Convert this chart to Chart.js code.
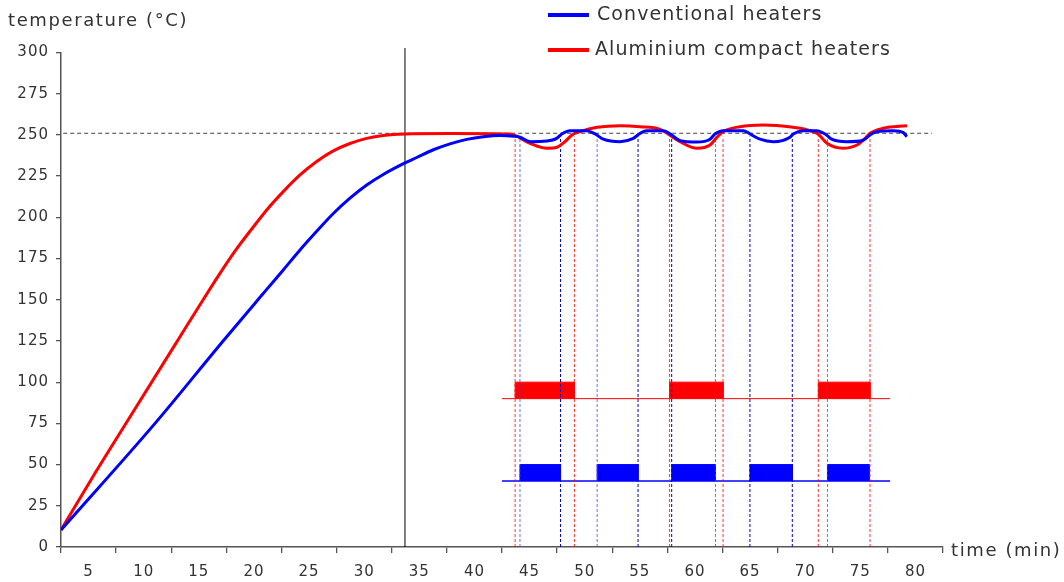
<!DOCTYPE html>
<html>
<head>
<meta charset="utf-8">
<script src="https://cdn.jsdelivr.net/npm/chart.js@4"></script>
<style>
  html, body { margin: 0; padding: 0; background: #fff; }
  canvas { display: block; }
</style>
</head>
<body>
<canvas id="c" width="1064" height="582"></canvas>
<script>
// ---- data ----
const xTicks = [5, 10, 15, 20, 25, 30, 35, 40, 45, 50, 55, 60, 65, 70, 75, 80];
const xLabels = ['5', '10', '15', '20', '25', '30', '35', '40', '45', '50', '55', '60', '65', '70', '75', '80'];
const yTicks = [0, 25, 50, 75, 100, 125, 150, 175, 200, 225, 250, 275, 300];

const seriesNames = ['Conventional heaters', 'Aluminium compact heaters'];

const blueTime = [2.5, 11.03, 17.28, 20.1, 21.16, 22.66, 24.18, 25.69, 27.2, 28.71, 30.23, 31.73, 33.7, 34.76, 36.27, 37.78, 39.3, 40.8, 42.32, 43.53, 44.13, 45.04, 46.55, 47.46, 47.92, 48.67, 50.18, 50.94, 51.69, 53.21, 54.41, 55.02, 55.62, 57.13, 57.89, 58.65, 60.16, 61.37, 61.82, 62.57, 64.39, 64.99, 65.9, 67.11, 68.62, 68.92, 69.83, 71.04, 71.8, 72.4, 73.77, 75.27, 75.88, 76.49, 77.99, 78.9, 79.21];
const blueTemp = [10.3, 75.0, 125.6, 147.9, 156.3, 168.1, 180.2, 191.5, 202.3, 211.6, 219.6, 226.0, 233.0, 236.3, 241.0, 244.6, 247.3, 248.9, 249.6, 249.2, 248.6, 245.9, 246.3, 247.9, 250.6, 252.6, 252.6, 250.6, 247.4, 245.9, 247.9, 250.9, 252.6, 252.6, 250.0, 246.5, 245.7, 247.4, 250.6, 252.6, 252.6, 250.6, 247.4, 245.9, 248.6, 250.6, 252.6, 252.6, 250.6, 247.4, 245.9, 246.8, 250.0, 252.0, 252.6, 251.4, 248.9];

const redTime = [2.5, 5.58, 8.3, 13.11, 14.95, 16.77, 18.28, 20.1, 21.16, 22.66, 24.18, 25.69, 27.2, 28.71, 30.23, 31.73, 33.7, 37.78, 43.22, 45.04, 46.58, 47.49, 48.21, 48.85, 49.58, 51.12, 53.21, 55.02, 56.83, 57.56, 58.65, 60.19, 61.37, 62.0, 62.55, 64.09, 66.17, 68.89, 70.44, 71.16, 71.98, 73.43, 74.7, 75.43, 75.88, 77.06, 79.24];
const redTemp = [10.3, 44.7, 74.0, 125.6, 145.3, 164.5, 179.5, 195.5, 204.5, 215.6, 225.7, 233.9, 240.3, 244.8, 247.9, 249.7, 250.6, 250.9, 250.6, 244.9, 241.9, 242.5, 245.9, 250.0, 252.0, 254.6, 255.6, 255.0, 253.4, 250.6, 245.9, 241.9, 243.9, 248.6, 252.0, 255.0, 256.0, 254.6, 252.6, 250.6, 244.9, 241.9, 243.9, 247.9, 251.0, 254.0, 255.6];

// switching instants (min)
const redSwitch = [43.69, 49.07, 57.7, 62.55, 71.19, 75.88];
const blueSwitchLight = [44.13, 51.13, 61.86, 72.02];
const blueSwitchDark = [47.81, 54.84, 57.89, 64.99, 68.83];
const switchTop = 249;

// heater-on intervals (min)
const redOn = [[43.69, 49.07], [57.7, 62.55], [71.19, 75.88]];
const blueOn = [[44.13, 47.81], [51.13, 54.84], [57.89, 61.86], [64.99, 68.83], [72.02, 75.8]];
const redLevel = [90, 100];
const blueLevel = [40, 50];
const stripRange = [42.5, 77.7];

const setpoint = 251;
const setpointRange = [2.7, 81.5];
const markerTime = 33.7;
const markerTop = 302.7;

// ---- helpers building library data from the arrays ----
const pts = (xs, ys) => xs.map((x, i) => ({ x, y: ys[i] }));
const vlines = (xs, top) => xs.flatMap(x => [{ x, y: 0 }, { x, y: top }, { x, y: null }]);
const blocks = (ivs, lv) => ivs.flatMap(([a, b]) => [{ x: a, y: lv[0] }, { x: a, y: lv[1] }, { x: b, y: lv[1] }, { x: b, y: lv[0] }, { x: b, y: null }]);

const BLUE = '#0000ff';
const RED = '#ff0000';
const TXT = '#333333';
const FONT = '"DejaVu Sans", "Open Sans", sans-serif';

const flat = { pointRadius: 0, pointHoverRadius: 0, tension: 0, fill: false };

const datasets = [
  { label: seriesNames[0], data: pts(blueTime, blueTemp), borderColor: BLUE, borderWidth: 3, cubicInterpolationMode: 'monotone', pointRadius: 0, fill: false },
  { label: seriesNames[1], data: pts(redTime, redTemp), borderColor: RED, borderWidth: 3, cubicInterpolationMode: 'monotone', pointRadius: 0, fill: false },
  Object.assign({ label: 'setpoint', data: pts(setpointRange, [setpoint, setpoint]), borderColor: '#444', borderWidth: 1, borderDash: [4, 3] }, flat),
  Object.assign({ label: 'marker', data: pts([markerTime, markerTime], [0, markerTop]), borderColor: '#000', borderWidth: 1, clip: false }, flat),
  Object.assign({ label: 'red switch', data: vlines(redSwitch, switchTop), borderColor: 'rgba(255,0,0,0.8)', borderWidth: 1, borderDash: [3, 2], spanGaps: false }, flat),
  Object.assign({ label: 'blue switch a', data: vlines(blueSwitchLight, switchTop), borderColor: 'rgba(60,60,255,0.75)', borderWidth: 1, borderDash: [3, 2], spanGaps: false }, flat),
  Object.assign({ label: 'blue switch b', data: vlines(blueSwitchDark, switchTop), borderColor: '#0000c0', borderWidth: 1, borderDash: [3, 2], spanGaps: false }, flat),
  Object.assign({ label: 'red base', data: pts(stripRange, [redLevel[0], redLevel[0]]), borderColor: RED, borderWidth: 1 }, flat),
  Object.assign({ label: 'blue base', data: pts(stripRange, [blueLevel[0], blueLevel[0]]), borderColor: BLUE, borderWidth: 1.5 }, flat),
  Object.assign({}, flat, { label: 'red on', data: blocks(redOn, redLevel), borderColor: RED, borderWidth: 1, backgroundColor: RED, fill: { value: redLevel[0] }, spanGaps: false }),
  Object.assign({}, flat, { label: 'blue on', data: blocks(blueOn, blueLevel), borderColor: BLUE, borderWidth: 1, backgroundColor: BLUE, fill: { value: blueLevel[0] }, spanGaps: false })
];

function drawText(ctx, s, x, y, size, ls, align) {
  ctx.save();
  ctx.font = size + 'px ' + FONT;
  ctx.fillStyle = TXT;
  ctx.textBaseline = 'middle';
  ctx.textAlign = align || 'left';
  if ('letterSpacing' in ctx) ctx.letterSpacing = ls + 'px';
  ctx.fillText(s, x, y);
  ctx.restore();
}

const decor = {
  id: 'decor',
  beforeDraw(chart) {
    if ('letterSpacing' in chart.ctx) chart.ctx.letterSpacing = '1px';
  },
  afterDraw(chart) {
    const ctx = chart.ctx;
    drawText(ctx, 'temperature (°C)', 8, 21, 18, 1.6);
    drawText(ctx, 'time (min)', 951, 551, 18, 1.6);
    const items = [[0, 15, 597], [1, 50, 595]];
    items.forEach(([i, y, tx]) => {
      ctx.save();
      ctx.strokeStyle = chart.data.datasets[i].borderColor;
      ctx.lineWidth = 4;
      ctx.beginPath();
      ctx.moveTo(548, y);
      ctx.lineTo(589, y);
      ctx.stroke();
      ctx.restore();
      drawText(ctx, seriesNames[i], tx, y, 19, 1.1);
    });
    if ('letterSpacing' in ctx) ctx.letterSpacing = '0px';
  }
};

new Chart(document.getElementById('c'), {
  type: 'line',
  data: { datasets },
  plugins: [decor],
  options: {
    responsive: false,
    animation: false,
    devicePixelRatio: 1,
    layout: { padding: { top: 52.5, right: 121, left: 0, bottom: 0 } },
    plugins: { legend: { display: false }, tooltip: { enabled: false } },
    elements: { point: { radius: 0 } },
    scales: {
      x: {
        type: 'linear',
        min: 2.5,
        max: 82.5,
        afterBuildTicks: s => { s.ticks = xTicks.map(v => ({ value: v })); },
        afterFit: s => { s.height = 35; },
        grid: { offset: true, drawOnChartArea: false, drawTicks: true, tickLength: 6, color: '#555', lineWidth: 1.3 },
        border: { color: '#555', width: 1.5 },
        ticks: {
          autoSkip: false, maxRotation: 0, padding: 10, color: TXT,
          font: { family: FONT, size: 15 },
          callback: (v, i) => xLabels[i]
        }
      },
      y: {
        type: 'linear',
        min: 0,
        max: 300,
        afterBuildTicks: s => { s.ticks = yTicks.map(v => ({ value: v })); },
        afterFit: s => { s.width = 61; },
        grid: { drawOnChartArea: false, drawTicks: true, tickLength: 5, color: '#555', lineWidth: 1.3 },
        border: { color: '#555', width: 1.5 },
        ticks: {
          autoSkip: false, padding: 7, color: TXT,
          font: { family: FONT, size: 15 },
          callback: v => String(v)
        }
      }
    }
  }
});
</script>
</body>
</html>
